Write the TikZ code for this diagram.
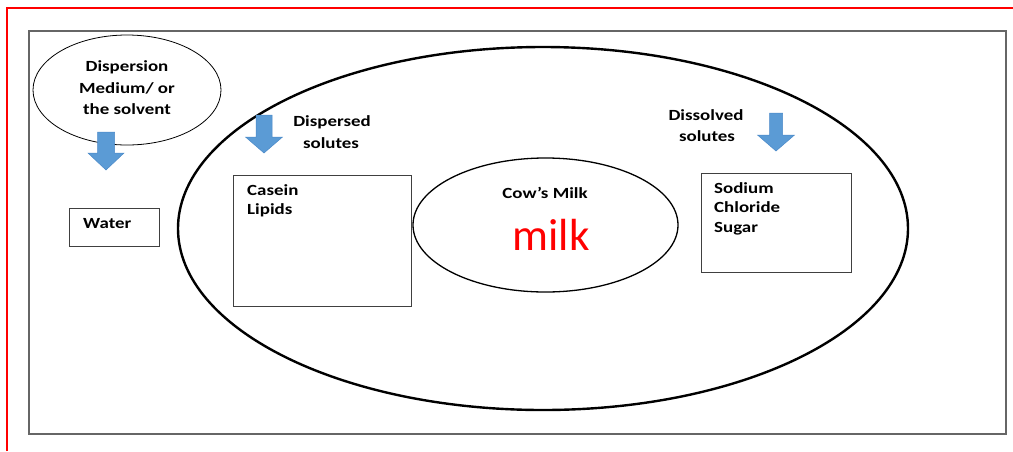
\documentclass[tikz,border=0pt]{standalone}
\usepackage{fontspec}
\usepackage{graphicx}
\setmainfont{Carlito}
\usetikzlibrary{shapes.geometric}
\definecolor{arrowblue}{HTML}{5B9BD5}
\definecolor{arrowedge}{HTML}{4A89C8}
\newcommand{\wtxt}[1]{\scalebox{1.22}[1]{#1}}
\newcommand{\blockarrowdown}[6]{%
  \draw[blockarrow] (#1-#3,#2) -- (#1+#3,#2) -- (#1+#3,#4) -- (#1+#5,#4)
    -- (#1,#6) -- (#1-#5,#4) -- (#1-#3,#4) -- cycle;}
\begin{document}
\begin{tikzpicture}[x=1pt,y=-1pt,
  lbl/.style={font=\fontsize{15.5}{18}\selectfont\bfseries, inner sep=0pt},
  box/.style={draw=black!75, line width=0.9pt, inner sep=0pt, rectangle},
  ell/.style={draw=black, ellipse, inner sep=0pt},
  blockarrow/.style={fill=arrowblue, draw=arrowedge, line width=0.5pt}]
\useasboundingbox (0,0) rectangle (1013,451);
% frame lines
\draw[red, line width=2.2pt] (7,451) -- (7,8) -- (1013,8);
\draw[black!60, line width=2.8pt] (29,31) rectangle (1006,434);
% ellipses
\node[ell, line width=2.4pt, minimum width=730, minimum height=363] (outer) at (543,228.5) {};
\node[ell, line width=0.8pt, minimum width=188, minimum height=110] (solvent) at (127,90) {};
\node[ell, line width=1.3pt, minimum width=265, minimum height=134] (cowell) at (545.5,225) {};
% boxes
\node[box, minimum width=90, minimum height=38] (waterbox) at (114,227) {};
\node[box, minimum width=178, minimum height=131] (caseinbox) at (322,240.5) {};
\node[box, minimum width=150, minimum height=99] (sodiumbox) at (776,222.5) {};
% arrows
\blockarrowdown{106}{132}{8.5}{153}{18}{170}
\blockarrowdown{264}{115}{8}{137}{18.5}{153}
\blockarrowdown{776}{113}{6.5}{135}{18.5}{151}
% texts
\node[lbl, anchor=base] (disp1) at (127,71.5) {\wtxt{Dispersion}};
\node[lbl, anchor=base] (disp2) at (127,93) {\wtxt{Medium/ or}};
\node[lbl, anchor=base] (disp3) at (127,114) {\wtxt{the solvent}};
\node[lbl, anchor=base] (dsp1) at (332,126) {\wtxt{Dispersed}};
\node[lbl, anchor=base] (dsp2) at (331,148) {\wtxt{solutes}};
\node[lbl, anchor=base] (dsl1) at (706,120.5) {\wtxt{Dissolved}};
\node[lbl, anchor=base] (dsl2) at (707,141.5) {\wtxt{solutes}};
\node[lbl, anchor=base west] (water) at (83,228) {\wtxt{Water}};
\node[lbl, anchor=base west] (cas1) at (247,195) {\wtxt{Casein}};
\node[lbl, anchor=base west] (cas2) at (247,214) {\wtxt{Lipids}};
\node[lbl, anchor=base west] (sod1) at (714,193) {\wtxt{Sodium}};
\node[lbl, anchor=base west] (sod2) at (714,212.5) {\wtxt{Chloride}};
\node[lbl, anchor=base west] (sod3) at (714,232.5) {\wtxt{Sugar}};
\node[lbl, anchor=base] (cow) at (545,198) {\wtxt{Cow’s Milk}};
\node[inner sep=0pt, anchor=base, text=red, font=\fontsize{45}{45}\selectfont] (milk) at (551,250) {milk};
\end{tikzpicture}
\end{document}
